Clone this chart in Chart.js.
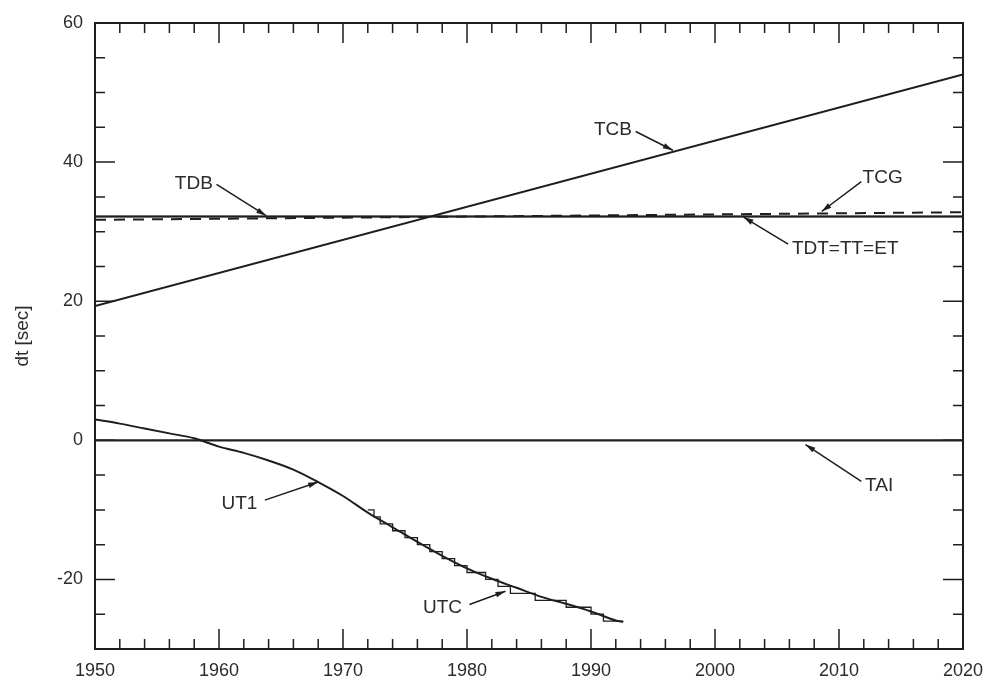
<!DOCTYPE html>
<html>
<head>
<meta charset="utf-8">
<title>dt [sec]</title>
<script src="https://cdn.jsdelivr.net/npm/chart.js@4.4.1/dist/chart.umd.min.js"></script>
<style>
  html, body { margin: 0; padding: 0; background: #fff; }
  #wrap { width: 988px; height: 682px; }
</style>
</head>
<body>
<div id="wrap"><canvas id="dtChart"></canvas></div>
<script>
// tick labels
const xTicks = [1950, 1960, 1970, 1980, 1990, 2000, 2010, 2020];
const yTicks = [-20, 0, 20, 40, 60];

// series (year, seconds)
const tcbYears = [1950, 2020];
const tcbValues = [19.3, 52.6];

const tcgYears = [1950, 2020];
const tcgValues = [31.7, 32.8];

const ttYears = [1950, 2020];
const ttValues = [32.18, 32.18];

const tdbYears = [1950, 2020];
const tdbValues = [32.18, 32.18];

const taiYears = [1950, 2020];
const taiValues = [0, 0];

const ut1Years = [1950, 1952, 1954, 1956, 1958, 1960, 1962, 1964, 1966, 1968, 1970,
                  1972, 1974, 1976, 1978, 1980, 1982, 1984, 1986, 1988, 1990, 1992, 1992.6];
const ut1Values = [3.0, 2.4, 1.7, 1.0, 0.3, -0.9, -1.8, -2.9, -4.2, -6.0, -8.0,
                   -10.4, -12.5, -14.6, -16.6, -18.4, -19.9, -21.2, -22.5, -23.5, -24.6, -25.9, -26.1];

// UTC - TAI, one-second steps
const utcYears = [1972, 1972.5, 1973, 1974, 1975, 1976, 1977, 1978, 1979, 1980,
                  1981.5, 1982.5, 1983.5, 1985.5, 1988, 1990, 1991, 1992.6];
const utcValues = [-10, -11, -12, -13, -14, -15, -16, -17, -18, -19,
                   -20, -21, -22, -23, -24, -25, -26, -26];

const ink = '#1e1e1e';
const textInk = '#2b2b2b';
const fontFamily = '"Liberation Sans", Arial, Helvetica, sans-serif';

function points(xs, ys) {
    return xs.map((x, i) => ({ x: x, y: ys[i] }));
}

// labels with arrows, given in data units
const notes = [
    { text: 'TDB', at: [1959.5, 36.9], align: 'right', from: [1959.8, 36.8], to: [1963.8, 32.3] },
    { text: 'TCB', at: [1993.3, 44.6], align: 'right', from: [1993.6, 44.4], to: [1996.6, 41.7] },
    { text: 'TCG', at: [2011.9, 37.7], align: 'left', from: [2011.8, 37.2], to: [2008.6, 32.9] },
    { text: 'TDT=TT=ET', at: [2006.2, 27.5], align: 'left', from: [2005.9, 28.2], to: [2002.3, 32.1] },
    { text: 'TAI', at: [2012.1, -6.5], align: 'left', from: [2011.8, -5.9], to: [2007.3, -0.6] },
    { text: 'UT1', at: [1963.1, -9.1], align: 'right', from: [1963.7, -8.6], to: [1968.0, -6.0] },
    { text: 'UTC', at: [1979.6, -24.0], align: 'right', from: [1980.2, -23.6], to: [1983.1, -21.7] }
];

const frameTicks = {
    id: 'frameTicks',
    afterDatasetsDraw(chart) {
        const { ctx, chartArea: a, scales: { x, y } } = chart;
        ctx.save();
        ctx.strokeStyle = ink;
        ctx.lineWidth = 1.5;
        ctx.beginPath();
        for (let v = x.min; v <= x.max; v += 2) {
            const px = x.getPixelForValue(v);
            const len = v % 10 === 0 ? 20 : 10;
            ctx.moveTo(px, a.bottom); ctx.lineTo(px, a.bottom - len);
            ctx.moveTo(px, a.top); ctx.lineTo(px, a.top + len);
        }
        for (let v = y.min; v <= y.max; v += 5) {
            const py = y.getPixelForValue(v);
            const len = v % 20 === 0 ? 20 : 10;
            ctx.moveTo(a.left, py); ctx.lineTo(a.left + len, py);
            ctx.moveTo(a.right, py); ctx.lineTo(a.right - len, py);
        }
        ctx.stroke();
        ctx.lineWidth = 2;
        ctx.strokeRect(a.left, a.top, a.right - a.left, a.bottom - a.top);
        ctx.restore();
    }
};

const arrowNotes = {
    id: 'arrowNotes',
    afterDatasetsDraw(chart) {
        const { ctx, scales: { x, y } } = chart;
        ctx.save();
        ctx.strokeStyle = ink;
        ctx.fillStyle = ink;
        ctx.lineWidth = 1.5;
        ctx.font = '19px ' + fontFamily;
        ctx.textBaseline = 'middle';
        notes.forEach(n => {
            const x0 = x.getPixelForValue(n.from[0]), y0 = y.getPixelForValue(n.from[1]);
            const x1 = x.getPixelForValue(n.to[0]), y1 = y.getPixelForValue(n.to[1]);
            ctx.beginPath();
            ctx.moveTo(x0, y0);
            ctx.lineTo(x1, y1);
            ctx.stroke();
            // arrow head
            const ang = Math.atan2(y1 - y0, x1 - x0);
            const hl = 10, hw = 2.8;
            ctx.beginPath();
            ctx.moveTo(x1, y1);
            ctx.lineTo(x1 - hl * Math.cos(ang) + hw * Math.sin(ang), y1 - hl * Math.sin(ang) - hw * Math.cos(ang));
            ctx.lineTo(x1 - hl * Math.cos(ang) - hw * Math.sin(ang), y1 - hl * Math.sin(ang) + hw * Math.cos(ang));
            ctx.closePath();
            ctx.fill();
            ctx.fillStyle = textInk;
            ctx.textAlign = n.align;
            ctx.fillText(n.text, x.getPixelForValue(n.at[0]), y.getPixelForValue(n.at[1]));
            ctx.fillStyle = ink;
        });
        ctx.restore();
    }
};

function lineSet(label, xs, ys, extra) {
    return Object.assign({
        label: label,
        data: points(xs, ys),
        borderColor: ink,
        borderWidth: 2,
        pointRadius: 0,
        fill: false,
        tension: 0
    }, extra || {});
}

const ctx = document.getElementById('dtChart').getContext('2d');
const dtChart = new Chart(ctx, {
    type: 'line',
    data: {
        datasets: [
            lineSet('TAI', taiYears, taiValues, { borderWidth: 2.4 }),
            lineSet('TDT=TT=ET', ttYears, ttValues),
            lineSet('TDB', tdbYears, tdbValues, { borderWidth: 1.5 }),
            lineSet('TCG', tcgYears, tcgValues, { borderDash: [11, 8], borderWidth: 2 }),
            lineSet('TCB', tcbYears, tcbValues),
            lineSet('UT1', ut1Years, ut1Values, { tension: 0.3, cubicInterpolationMode: 'monotone' }),
            lineSet('UTC', utcYears, utcValues, { stepped: true, borderWidth: 1.3 })
        ]
    },
    options: {
        animation: false,
        responsive: true,
        maintainAspectRatio: false,
        layout: { autoPadding: false, padding: { top: 23, right: 25, left: 0, bottom: 0 } },
        plugins: {
            legend: { display: false },
            tooltip: { enabled: false }
        },
        scales: {
            x: {
                type: 'linear',
                min: 1950,
                max: 2020,
                afterBuildTicks: s => { s.ticks = xTicks.map(v => ({ value: v })); },
                afterFit: s => {
                    s.height = 33;
                    s.paddingLeft = 0;
                    s.paddingRight = 0;
                },
                grid: { display: false, drawTicks: false },
                border: { display: false },
                ticks: {
                    color: textInk,
                    font: { family: fontFamily, size: 18 },
                    padding: 11,
                    maxRotation: 0,
                    autoSkip: false,
                    callback: v => String(v)
                }
            },
            y: {
                type: 'linear',
                min: -30,
                max: 60,
                afterBuildTicks: s => { s.ticks = yTicks.map(v => ({ value: v })); },
                afterFit: s => {
                    s.width = 95;
                    s.paddingTop = 0;
                    s.paddingBottom = 0;
                },
                grid: { display: false, drawTicks: false },
                border: { display: false },
                title: {
                    display: true,
                    text: 'dt [sec]',
                    color: textInk,
                    font: { family: fontFamily, size: 19 },
                    padding: { top: 11, bottom: 0 }
                },
                ticks: {
                    color: textInk,
                    font: { family: fontFamily, size: 18 },
                    padding: 12,
                    autoSkip: false,
                    callback: v => String(v)
                }
            }
        }
    },
    plugins: [frameTicks, arrowNotes]
});
</script>
</body>
</html>
